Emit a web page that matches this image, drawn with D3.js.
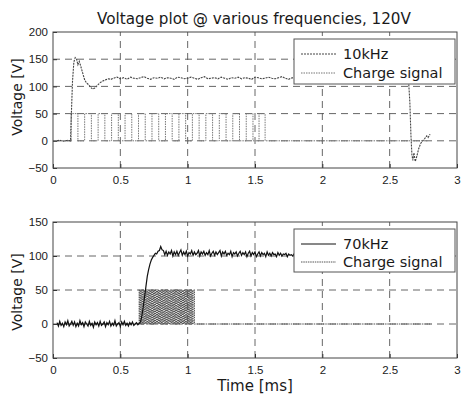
<!DOCTYPE html>
<html>
<head>
<meta charset="utf-8">
<script src="https://cdn.jsdelivr.net/npm/d3@7"></script>
<style>
  body { margin: 0; background: #fff; }
  svg text { fill: #1a1a1a; }
</style>
</head>
<body>
<div id="chart"></div>
<script>
// ---- data ----
const xTicks = [0, 0.5, 1, 1.5, 2, 2.5, 3];
const yTicksTop = [-50, 0, 50, 100, 150, 200];
const yTicksBottom = [-50, 0, 50, 100, 150];

const titleText = "Voltage plot @ various frequencies, 120V";
const legendTop = ["10kHz", "Charge signal"];
const legendBottom = ["70kHz", "Charge signal"];

// 10kHz voltage: start-up transient [t, V]
const v10Start = [[0.03,0],[0.05,1],[0.07,-1],[0.09,0],[0.11,1],[0.13,0],[0.135,40],[0.145,110],
  [0.155,145],[0.165,153],[0.175,150],[0.185,140],[0.195,146],[0.205,138],[0.22,125],[0.235,112],
  [0.25,106],[0.265,103],[0.28,98],[0.295,95],[0.31,97],[0.33,102],[0.35,107],[0.37,110],
  [0.39,112],[0.41,114],[0.43,113]];
// 10kHz voltage: steady part, samples every 0.025 ms from 0.45 ms
const v10SteadyT0 = 0.45, v10SteadyDt = 0.025;
const v10Steady = [115,117,114,116,113,117,115,114,116,118,115,113,116,115,117,114,116,115,113,117,
  116,114,115,117,115,113,116,118,114,115,116,114,117,115,113,116,115,117,114,116,
  115,113,117,116,114,115,117,115,114,116,118,115,113,116,115,117,114,116,115,113,
  117,116,114,115,117,115,113,116,114,115,116,114,117,115,113,116,115,117,114,116,
  115,114,116,115,117,115,114,116];
// 10kHz voltage: turn-off dip
const v10End = [[2.64,112],[2.65,70],[2.658,10],[2.665,-25],[2.672,-36],[2.68,-22],[2.69,-38],
  [2.70,-30],[2.715,-15],[2.73,-5],[2.745,0],[2.76,4],[2.775,9],[2.785,6],[2.8,12]];

// charge signal, 10kHz pulses (rise / fall times in ms), level 50 V
const c10Rise = [0.135,0.235,0.335,0.435,0.535,0.635,0.735,0.835,0.935,1.035,1.135,1.235,1.335,1.435,1.53];
const c10Fall = [0.185,0.285,0.385,0.485,0.585,0.685,0.785,0.885,0.985,1.085,1.185,1.285,1.385,1.485,1.575];
const c10Span = [0.03, 2.78];
const chargeLevel = 50;

// 70kHz voltage: baseline noise, samples every 0.01 ms from 0.03 ms
const v70BaseT0 = 0.03, v70BaseDt = 0.01;
const v70Base = [2,-3,4,-2,1,-4,3,-1,5,-3,0,4,-2,3,-4,1,-3,5,-1,2,-4,3,0,-3,4,-2,1,-5,3,-1,
  2,-3,4,-2,0,3,-4,2,-1,4,-3,1,-2,5,-3,0,2,-4,3,-1,4,-2,1,-3,2,-1,3,-2,0,2,-1,1];
// 70kHz voltage: rise
const v70Rise = [[0.65,3],[0.66,12],[0.67,25],[0.68,40],[0.69,55],[0.70,70],[0.71,80],[0.72,88],
  [0.73,94],[0.74,98],[0.75,101],[0.76,104],[0.77,103],[0.78,107],[0.79,108],[0.80,114],[0.81,109]];
// 70kHz voltage: settled noise, samples every 0.01 ms from 0.82 ms
const v70SteadyT0 = 0.82, v70SteadyDt = 0.01;
const v70Steady = [108,102,107,101,106,103,108,100,106,102,107,101,105,109,101,106,102,107,100,105,
  103,108,101,106,102,104,108,100,106,103,107,101,105,102,108,100,104,107,101,106,
  102,105,108,100,106,103,107,101,104,102,107,99,105,103,106,100,104,107,101,105,
  102,106,99,104,107,100,105,102,106,99,103,106,100,105,102,104,99,106,101,104,
  100,105,102,103,99,105,101,104,100,103,102,104,99,103,101,102,100,103,101];
const v70Tail = [[1.9,101],[2.2,100],[2.5,101],[2.8,100]];

// charge signal, 70kHz pulses
const c70Rise = [0.640,0.654,0.669,0.683,0.697,0.711,0.726,0.740,0.754,0.769,0.783,0.797,0.811,0.826,
  0.840,0.854,0.869,0.883,0.897,0.911,0.926,0.940,0.954,0.969,0.983,0.997,1.011,1.026,1.040];
const c70Fall = [0.647,0.661,0.676,0.690,0.704,0.718,0.733,0.747,0.761,0.776,0.790,0.804,0.818,0.833,
  0.847,0.861,0.876,0.890,0.904,0.918,0.933,0.947,0.961,0.976,0.990,1.004,1.018,1.033,1.050];
const c70Span = [0.03, 2.81];

// ---- helpers ----
function sampled(t0, dt, vals) { return vals.map((v, i) => [t0 + i * dt, v]); }
function pulses(span, rises, falls, level) {
  const pts = [[span[0], 0]];
  rises.forEach((r, i) => { pts.push([r, 0], [r, level], [falls[i], level], [falls[i], 0]); });
  pts.push([span[1], 0]);
  return pts;
}

const W = 462, H = 394;
const svg = d3.select("#chart").append("svg").attr("width", W).attr("height", H);

const x = d3.scaleLinear().domain([0, 3]).range([53, 457]);

svg.append("text").attr("x", 254).attr("y", 24).attr("text-anchor", "middle")
  .style("font-family", "DejaVu Sans").style("font-size", "15.2px").text(titleText);

function panel(y, yTicks, series, legend) {
  const g = svg.append("g");
  const [y0, y1] = y.range();
  // grid
  g.selectAll(".gx").data(xTicks.slice(1, -1)).enter().append("line")
    .attr("x1", d => x(d)).attr("x2", d => x(d)).attr("y1", y0).attr("y2", y1)
    .attr("stroke", "#555").attr("stroke-dasharray", "7,5").attr("stroke-width", 0.9);
  g.selectAll(".gy").data(yTicks.slice(1, -1)).enter().append("line")
    .attr("x1", x(0)).attr("x2", x(3)).attr("y1", d => y(d)).attr("y2", d => y(d))
    .attr("stroke", "#555").attr("stroke-dasharray", "7,5").attr("stroke-width", 0.9);

  const line = d3.line().x(d => x(d[0])).y(d => y(d[1]));
  series.forEach(s => {
    g.append("path").datum(s.data).attr("d", line).attr("fill", "none")
      .attr("stroke", s.color).attr("stroke-width", s.width)
      .attr("stroke-dasharray", s.dash || null);
  });

  // axes
  const ax = g.append("g").attr("transform", `translate(0,${y0})`)
    .call(d3.axisBottom(x).tickValues(xTicks).tickFormat(d3.format("")).tickSizeInner(-4).tickSizeOuter(0).tickPadding(8));
  const ay = g.append("g").attr("transform", `translate(${x(0)},0)`)
    .call(d3.axisLeft(y).tickValues(yTicks).tickSizeInner(-4).tickSizeOuter(0).tickPadding(5));
  [ax, ay].forEach(a => {
    a.select(".domain").remove();
    a.selectAll("line").attr("stroke", "#333");
    a.selectAll("text").style("font-family", "Liberation Sans").style("font-size", "11.5px").attr("fill", "#1a1a1a");
  });
  g.append("rect").attr("x", x(0)).attr("y", y1).attr("width", x(3) - x(0)).attr("height", y0 - y1)
    .attr("fill", "none").attr("stroke", "#444").attr("stroke-width", 1);

  // legend
  const lg = g.append("g");
  lg.append("rect").attr("x", 294).attr("y", legend.top).attr("width", 161).attr("height", legend.h)
    .attr("fill", "#fff").attr("stroke", "#555").attr("stroke-width", 1);
  legend.labels.forEach((lab, i) => {
    const yy = legend.top + legend.rows[i];
    const s = series[legend.map[i]];
    lg.append("line").attr("x1", 301).attr("x2", 336).attr("y1", yy).attr("y2", yy)
      .attr("stroke", s.color).attr("stroke-width", 1).attr("stroke-dasharray", s.dash || null);
    lg.append("text").attr("x", 343).attr("y", yy + 5).style("font-family", "DejaVu Sans")
      .style("font-size", "14.5px").text(lab);
  });
}

const yTop = d3.scaleLinear().domain([-50, 200]).range([168, 32]);
const yBot = d3.scaleLinear().domain([-50, 150]).range([358, 222]);

const v10 = v10Start.concat(sampled(v10SteadyT0, v10SteadyDt, v10Steady), v10End);
const c10 = pulses(c10Span, c10Rise, c10Fall, chargeLevel);
panel(yTop, yTicksTop, [
  { data: c10, color: "#777", width: 1, dash: "1.5,1" },
  { data: v10, color: "#444", width: 1.1, dash: "2,1" }
], { top: 39, h: 45, rows: [15, 34], labels: legendTop, map: [1, 0] });

const v70 = sampled(v70BaseT0, v70BaseDt, v70Base).concat(v70Rise, sampled(v70SteadyT0, v70SteadyDt, v70Steady), v70Tail);
const c70 = pulses(c70Span, c70Rise, c70Fall, chargeLevel);
panel(yBot, yTicksBottom, [
  { data: c70, color: "#555", width: 1.1, dash: "1.5,0.8" },
  { data: v70, color: "#111", width: 1.2 }
], { top: 229, h: 43, rows: [15, 33], labels: legendBottom, map: [1, 0] });

// axis labels
svg.append("text").attr("transform", "translate(22,97) rotate(-90)").attr("text-anchor", "middle")
  .style("font-family", "DejaVu Sans").style("font-size", "14px").text("Voltage [V]");
svg.append("text").attr("transform", "translate(22,292) rotate(-90)").attr("text-anchor", "middle")
  .style("font-family", "DejaVu Sans").style("font-size", "14px").text("Voltage [V]");
svg.append("text").attr("x", 255).attr("y", 391).attr("text-anchor", "middle")
  .style("font-family", "DejaVu Sans").style("font-size", "15px").text("Time [ms]");
</script>
</body>
</html>
